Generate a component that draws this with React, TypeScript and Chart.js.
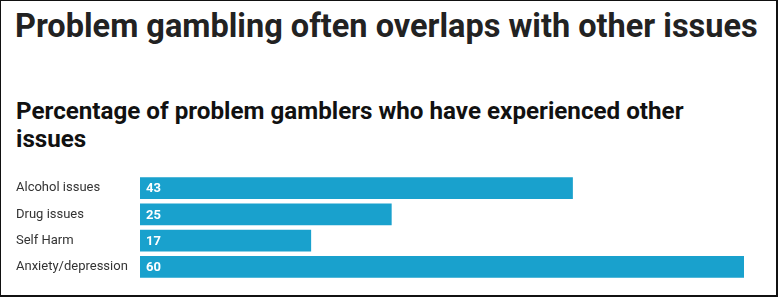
import React, { useEffect, useRef } from "react";
import { Chart, registerables } from "chart.js";

Chart.register(...registerables);

const categories = ["Alcohol issues", "Drug issues", "Self Harm", "Anxiety/depression"];
const percentages = [43, 25, 17, 60];
const barColor = "#19a1cd";

// Writes each bar's value in white just inside its left end.
const valueLabels = {
  id: "valueLabels",
  afterDatasetsDraw(chart: any) {
    const ctx = chart.ctx;
    const meta = chart.getDatasetMeta(0);
    ctx.save();
    ctx.fillStyle = "#ffffff";
    ctx.font = "bold 13px Roboto, Arial, sans-serif";
    ctx.textAlign = "left";
    ctx.textBaseline = "middle";
    meta.data.forEach((bar: any, i: number) => {
      ctx.fillText(String(percentages[i]), bar.base + 6, bar.y + 1);
    });
    ctx.restore();
  },
};

export default function App() {
  const canvasRef = useRef<HTMLCanvasElement | null>(null);

  useEffect(() => {
    if (!canvasRef.current) return;
    const chart = new Chart(canvasRef.current, {
      type: "bar",
      data: {
        labels: categories,
        datasets: [
          {
            data: percentages,
            backgroundColor: barColor,
            borderWidth: 0,
            categoryPercentage: 1,
            barPercentage: 0.835,
          },
        ],
      },
      options: {
        indexAxis: "y",
        animation: false,
        responsive: false,
        maintainAspectRatio: false,
        layout: { padding: { left: 16, right: 32, top: 0, bottom: 0 } },
        plugins: {
          legend: { display: false },
          tooltip: { enabled: false },
          title: { display: false },
        },
        scales: {
          x: {
            display: false,
            min: 0,
            max: 60,
          },
          y: {
            grid: { display: false, drawTicks: false },
            border: { display: false },
            ticks: {
              crossAlign: "far",
              padding: 0,
              color: "#333333",
              font: { family: "Roboto, Arial, sans-serif", size: 13 },
            },
            afterFit(scale: any) {
              scale.width = 124;
              scale.paddingTop = 0;
              scale.paddingBottom = 0;
            },
          },
        },
      },
      plugins: [valueLabels],
    });
    return () => chart.destroy();
  }, []);

  return (
    <div
      style={{
        position: "fixed",
        left: 0,
        top: 0,
        width: 778,
        height: 297,
        boxSizing: "border-box",
        borderStyle: "solid",
        borderColor: "#111111",
        borderWidth: "1px 2px 2px 1px",
        background: "#ffffff",
        overflow: "hidden",
      }}
    >
      <div
        style={{
          position: "absolute",
          left: 14,
          top: 5,
          fontFamily: "Roboto, Arial, sans-serif",
          fontWeight: 700,
          fontSize: 32.5,
          lineHeight: "40px",
          color: "#222222",
          whiteSpace: "nowrap",
        }}
      >
        Problem gambling often overlaps with other issues
      </div>
      <div
        style={{
          position: "absolute",
          left: 15,
          top: 96,
          width: 740,
          fontFamily: "Roboto, Arial, sans-serif",
          fontWeight: 700,
          fontSize: 24.2,
          lineHeight: "28px",
          color: "#111111",
        }}
      >
        Percentage of problem gamblers who have experienced other issues
      </div>
      <canvas
        ref={canvasRef}
        width={776}
        height={105}
        style={{ position: "absolute", left: -1, top: 174, width: 776, height: 105 }}
      />
    </div>
  );
}
